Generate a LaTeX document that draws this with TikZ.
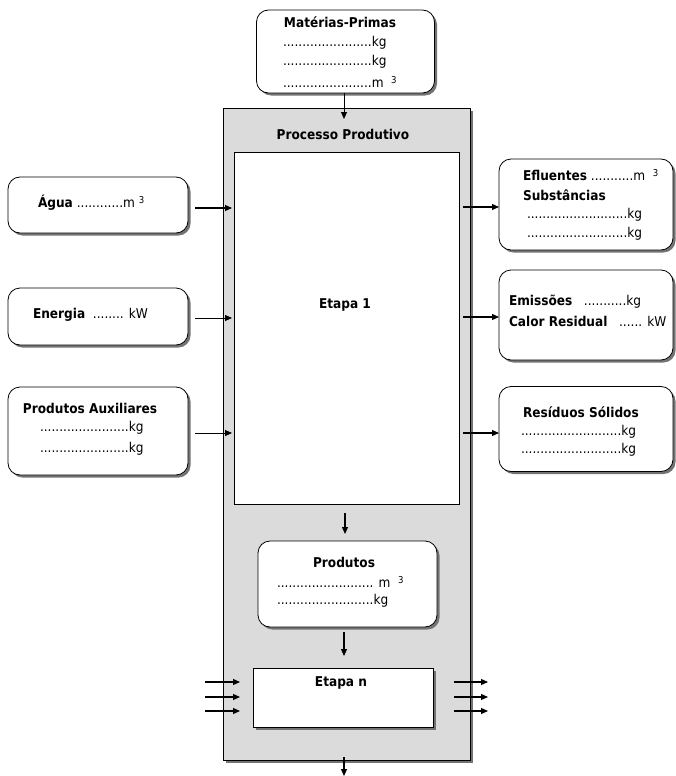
\documentclass[tikz,border=0pt]{standalone}
\usepackage{fontspec}
\setmainfont{DejaVu Sans Condensed}
\usetikzlibrary{shadows,arrows.meta}
\newcommand{\cubo}{\raisebox{0.55ex}{\fontsize{9.5}{9.5}\selectfont 3}}
\begin{document}
\begin{tikzpicture}[x=1pt,y=-1pt,
  every node/.style={inner sep=0pt,outer sep=0pt,font=\fontsize{13.5}{15}\selectfont},
  rbox/.style={draw,line width=0.8pt,fill=white,rounded corners=12pt,
    drop shadow={shadow xshift=2.5pt,shadow yshift=-2.5pt,fill=black!55,opacity=1}},
  sqbox/.style={draw,line width=0.8pt,fill=white},
  procbox/.style={draw,line width=0.8pt,fill=black!14,
    drop shadow={shadow xshift=2.5pt,shadow yshift=-2.5pt,fill=black!55,opacity=1}},
  lbl/.style={font=\fontsize{13.5}{15}\selectfont\bfseries},
  val/.style={anchor=west},
  arr/.style={-{Triangle[length=7pt,width=6pt]},line width=1.2pt},
  thinarr/.style={-{Triangle[length=7pt,width=6pt]},line width=0.8pt},
]
\useasboundingbox (0,0) rectangle (676,776);

% process frame and stages
\node[procbox,minimum width=247pt,minimum height=652pt] (proc) at (346.5,434) {};
\node[sqbox,minimum width=225pt,minimum height=352pt] (et1) at (346.5,328) {};
\node[sqbox,minimum width=180pt,minimum height=59pt,
  drop shadow={shadow xshift=2.5pt,shadow yshift=-2.5pt,fill=black!55,opacity=1}] (etn) at (343,697.5) {};
\node[lbl] (proct) at (343,134) {Processo Produtivo};
\node[lbl] (et1t) at (345,305) {Etapa 1};
\node[lbl] (etnt) at (341,683) {Etapa n};

% raw materials
\node[rbox,minimum width=178pt,minimum height=83pt] (mat) at (345.5,51.5) {};
\node[lbl] (matt) at (340,22) {Matérias-Primas};
\node[val] (mat1) at (283,43) {.......................kg};
\node[val] (mat2) at (283,62) {.......................kg};
\node[val] (mat3) at (283,82) {.......................m\ \ \cubo};

% products
\node[rbox,minimum width=179pt,minimum height=86pt] (prod) at (347.5,584) {};
\node[lbl] (prodt) at (344,562) {Produtos};
\node[val] (prod1) at (277,582) {......................... m\ \ \cubo};
\node[val] (prod2) at (277,601) {.........................kg};

% inputs
\node[rbox,minimum width=180pt,minimum height=56pt] (agua) at (98,205) {};
\node[val] (aguat) at (38,203) {\textbf{Água} ............m\ \cubo};
\node[rbox,minimum width=180pt,minimum height=57pt] (ener) at (98,316.5) {};
\node[val] (enert) at (33,315) {\textbf{Energia}\ \ ........ kW};
\node[rbox,minimum width=180pt,minimum height=88pt] (aux) at (98,431) {};
\node[val,lbl] (auxt) at (23,408) {Produtos Auxiliares};
\node[val] (aux1) at (40,428) {.......................kg};
\node[val] (aux2) at (40,449) {.......................kg};

% outputs
\node[rbox,minimum width=174pt,minimum height=91pt] (eflu) at (586,204.5) {};
\node[val] (eflut) at (523,175) {\textbf{Efluentes} ...........m\ \ \cubo};
\node[val,lbl] (subt) at (523,195) {Substâncias};
\node[val] (sub1) at (527,215) {..........................kg};
\node[val] (sub2) at (527,234) {..........................kg};
\node[rbox,minimum width=174pt,minimum height=90pt] (emis) at (586,315) {};
\node[val] (emist) at (509,302) {\textbf{Emissões}\ \ \ ...........kg};
\node[val] (calt) at (509,321) {\textbf{Calor Residual}\ \ \ ...... kW};
\node[rbox,minimum width=174pt,minimum height=85pt] (resi) at (586,429) {};
\node[val,lbl] (resit) at (523,412) {Resíduos Sólidos};
\node[val] (res1) at (521,432) {..........................kg};
\node[val] (res2) at (521,450) {..........................kg};

% connector ends
\coordinate (matin) at (344,119);
\coordinate (aguain) at (232,208);
\coordinate (enerin) at (232,318);
\coordinate (auxin) at (232,433);
\coordinate (eflustart) at (463,207);
\coordinate (emisstart) at (463,317);
\coordinate (resistart) at (463,433);
\coordinate (et1out) at (345,513);
\coordinate (prodin) at (345,534);
\coordinate (prodout) at (344,632);
\coordinate (etnin) at (344,656);
\coordinate (procout) at (344,757);
\coordinate (bottom) at (344,776);
\foreach \i/\y in {1/682,2/697,3/711}{
  \coordinate (li\i) at (205,\y);
  \coordinate (le\i) at (240,\y);
  \coordinate (ri\i) at (454,\y);
  \coordinate (re\i) at (488,\y);
}

% flows
\draw[thinarr] (mat.south -| matin) -- (matin);
\draw[arr] (aguain -| agua.east) ++(7,0) -- (aguain);
\draw[thinarr] (enerin -| ener.east) ++(7,0) -- (enerin);
\draw[thinarr] (auxin -| aux.east) ++(7,0) -- (auxin);
\draw[arr] (eflustart) -- (eflustart -| eflu.west);
\draw[arr] (emisstart) -- (emisstart -| emis.west);
\draw[arr] (resistart) -- (resistart -| resi.west);
\draw[arr] (et1out) -- (prodin);
\draw[arr] (prodout) -- (etnin);
\draw[arr] (procout) -- (bottom);
\foreach \i in {1,2,3}{
  \draw[arr] (li\i) -- (le\i);
  \draw[arr] (ri\i) -- (re\i);
}
\end{tikzpicture}
\end{document}
